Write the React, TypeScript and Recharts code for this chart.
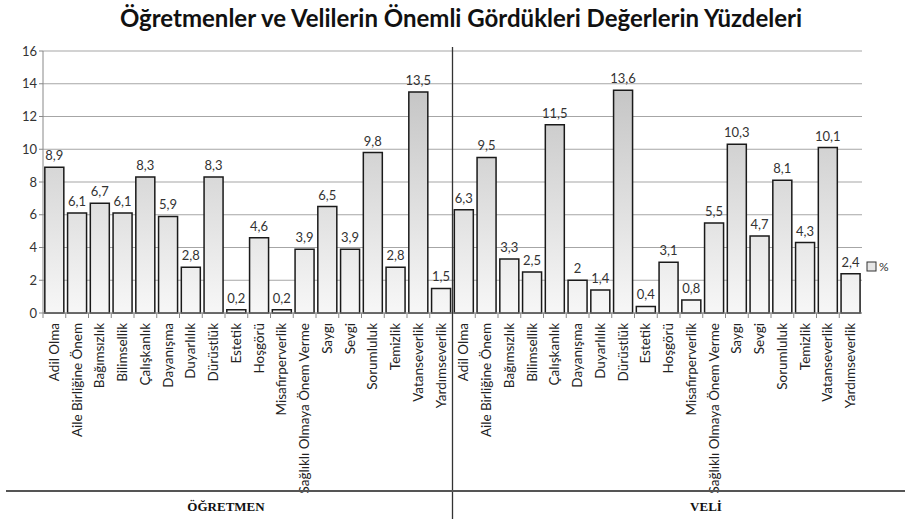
import { BarChart, Bar, XAxis, YAxis, CartesianGrid, LabelList } from 'recharts'

const values = [
  'Adil Olma',
  'Aile Birliğine Önem',
  'Bağımsızlık',
  'Bilimsellik',
  'Çalışkanlık',
  'Dayanışma',
  'Duyarlılık',
  'Dürüstlük',
  'Estetik',
  'Hoşgörü',
  'Misafirperverlik',
  'Sağlıklı Olmaya Önem Verme',
  'Saygı',
  'Sevgi',
  'Sorumluluk',
  'Temizlik',
  'Vatanseverlik',
  'Yardımseverlik',
]

const ogretmen = [8.9, 6.1, 6.7, 6.1, 8.3, 5.9, 2.8, 8.3, 0.2, 4.6, 0.2, 3.9, 6.5, 3.9, 9.8, 2.8, 13.5, 1.5]
const veli = [6.3, 9.5, 3.3, 2.5, 11.5, 2, 1.4, 13.6, 0.4, 3.1, 0.8, 5.5, 10.3, 4.7, 8.1, 4.3, 10.1, 2.4]

const groups = ['ÖĞRETMEN', 'VELİ']
const yTicks = [0, 2, 4, 6, 8, 10, 12, 14, 16]

const rows = [
  ...values.map((v, i) => ({ key: `o-${i}`, label: v, pct: ogretmen[i] })),
  ...values.map((v, i) => ({ key: `v-${i}`, label: v, pct: veli[i] })),
]

const W = 905
const H = 519
const M = { top: 51, right: 43, left: 0, bottom: 0 }
const Y_W = 43
const X_H = 206
const FONT = 'Lato, "Open Sans", sans-serif'
const band = (W - M.right - Y_W) / rows.length

const fmt = (v: any) => String(v).replace('.', ',')

const CatTick = ({ x, y, payload }: any) => {
  const r = rows[payload.index]
  return (
    <g>
      <line x1={x - band / 2} x2={x - band / 2} y1={y - 8} y2={y - 3} stroke="#888" />
      <text
        transform={`translate(${x + 4.5},${y + 2}) rotate(-90)`}
        textAnchor="end"
        fontSize={13.5}
        fontFamily={FONT}
        fill="#222"
      >
        {r ? r.label : ''}
      </text>
    </g>
  )
}

export default function App() {
  const plotBottom = H - X_H
  const mid = Y_W + band * values.length
  return (
    <div style={{ position: 'absolute', left: 0, top: 0, width: W, height: H, background: '#fff' }}>
      <BarChart width={W} height={H} data={rows} margin={M} barCategoryGap="8%">
        <defs>
          <linearGradient id="barFill" gradientUnits="userSpaceOnUse" x1={0} y1={M.top} x2={0} y2={plotBottom}>
            <stop offset="0%" stopColor="#bdbdbd" />
            <stop offset="100%" stopColor="#f7f7f7" />
          </linearGradient>
        </defs>
        <CartesianGrid vertical={false} stroke="#a6a6a6" strokeWidth={1.2} />
        <XAxis
          dataKey="key"
          interval={0}
          height={X_H}
          tick={<CatTick />}
          tickLine={false}
          axisLine={{ stroke: '#888' }}
        />
        <YAxis
          width={Y_W}
          domain={[0, 16]}
          ticks={yTicks}
          interval={0}
          tick={{ fontSize: 13, fontFamily: FONT, fill: '#333' }}
          tickSize={4}
          tickLine={{ stroke: '#888' }}
          axisLine={{ stroke: '#888' }}
        />
        <Bar dataKey="pct" fill="url(#barFill)" stroke="#1a1a1a" strokeWidth={1.5} isAnimationActive={false}>
          <LabelList
            dataKey="pct"
            position="top"
            offset={7}
            formatter={fmt}
            style={{ fontSize: 13, fontFamily: FONT, fill: '#333' }}
          />
        </Bar>
      </BarChart>
      <svg width={W} height={H} style={{ position: 'absolute', left: 0, top: 0, pointerEvents: 'none' }}>
        <text
          x={461}
          y={27}
          textAnchor="middle"
          fontSize={24}
          fontWeight="bold"
          fontFamily={FONT}
          fill="#111"
        >
          Öğretmenler ve Velilerin Önemli Gördükleri Değerlerin Yüzdeleri
        </text>
        <line x1={mid} x2={mid} y1={47} y2={H} stroke="#333" strokeWidth={1.3} />
        <line x1={6} x2={W} y1={491} y2={491} stroke="#555" strokeWidth={2} />
        <text x={226} y={511} textAnchor="middle" fontSize={13} fontWeight="bold" fontFamily='"Liberation Serif", serif' fill="#111">
          {groups[0]}
        </text>
        <text x={706} y={511} textAnchor="middle" fontSize={13} fontWeight="bold" fontFamily='"Liberation Serif", serif' fill="#111">
          {groups[1]}
        </text>
        <rect x={867} y={262} width={9} height={9} fill="#e6e6e6" stroke="#333" strokeWidth={1} />
        <text x={879} y={271} fontSize={12} fontFamily={FONT} fill="#333">
          %
        </text>
      </svg>
    </div>
  )
}
